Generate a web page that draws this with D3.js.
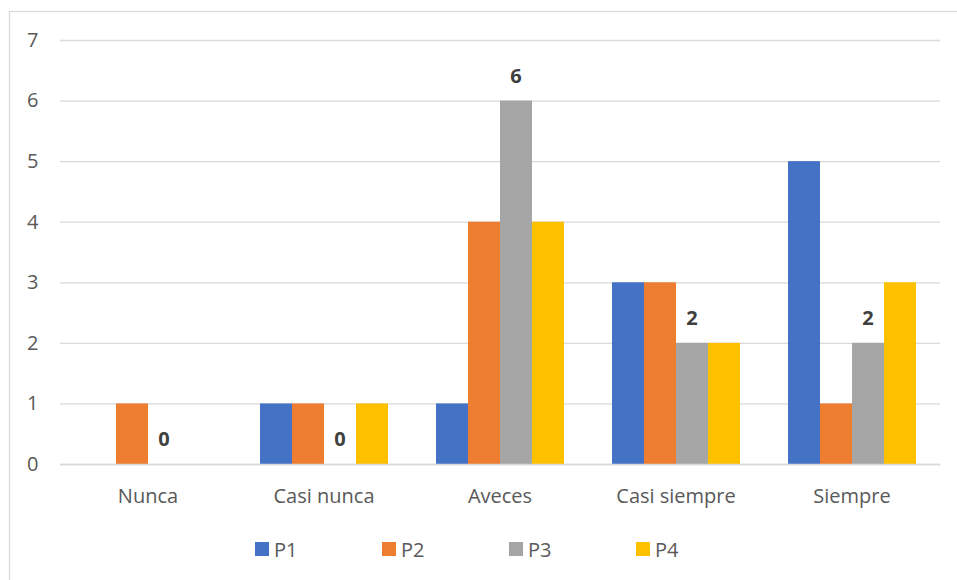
<!DOCTYPE html>
<html><head><meta charset="utf-8">
<script src="https://cdn.jsdelivr.net/npm/d3@7"></script>
<style>body{margin:0;background:#fff}svg{display:block}</style>
</head><body><svg id="c" width="957" height="580"></svg>
<script>
const categories = ["Nunca", "Casi nunca", "Aveces", "Casi siempre", "Siempre"];
const seriesNames = ["P1", "P2", "P3", "P4"];
const P1 = [0, 1, 1, 3, 5];
const P2 = [1, 1, 4, 3, 1];
const P3 = [0, 0, 6, 2, 2];
const P4 = [0, 1, 4, 2, 3];
const yTicks = [0, 1, 2, 3, 4, 5, 6, 7];
const colors = ["#4472C4", "#ED7D31", "#A5A5A5", "#FFC000"];
const labeledSeries = "P3";

const seriesValues = [P1, P2, P3, P4];
const svg = d3.select("#c");
const font = "'Open Sans', 'Noto Sans', sans-serif";

// outer border
svg.append("rect").attr("x", 9.5).attr("y", 11.5).attr("width", 960).attr("height", 600)
  .attr("fill", "none").attr("stroke", "#d9d9d9").attr("stroke-width", 1.3);

const x = d3.scaleBand().domain(categories).range([60, 940]).paddingInner(0.2727).paddingOuter(0.1364);
const xs = d3.scaleBand().domain(seriesNames).range([0, x.bandwidth()]);
const y = d3.scaleLinear().domain([0, 7]).range([464, 40]);

// gridlines
const yAxis = d3.axisLeft(y).tickValues(yTicks).tickSize(-880).tickFormat(d3.format("d"));
const gy = svg.append("g").attr("transform", "translate(60,0)").call(yAxis);
gy.select(".domain").remove();
gy.selectAll(".tick line").attr("stroke", "#d9d9d9").attr("stroke-width", 1.3);
gy.selectAll(".tick text").attr("fill", "#595959").style("font-family", font).style("font-size", "20px").attr("text-anchor", "start").attr("x", -33);

// bars
const groups = svg.append("g").selectAll("g").data(categories).join("g")
  .attr("transform", d => `translate(${x(d)},0)`);
groups.selectAll("rect").data((c, i) => seriesNames.map((s, j) => ({s, v: seriesValues[j][i], j})))
  .join("rect")
  .attr("x", d => xs(d.s)).attr("width", xs.bandwidth())
  .attr("y", d => y(d.v)).attr("height", d => y(0) - y(d.v))
  .attr("fill", d => colors[d.j]);

// data labels for P3
const li = seriesNames.indexOf(labeledSeries);
svg.append("g").selectAll("text").data(categories).join("text")
  .attr("x", c => x(c) + xs(labeledSeries) + xs.bandwidth() / 2)
  .attr("y", (c, i) => y(seriesValues[li][i]) - 18)
  .attr("text-anchor", "middle")
  .attr("fill", "#404040").style("font-family", font).style("font-size", "20px").style("font-weight", "bold")
  .text((c, i) => seriesValues[li][i]);

// x axis baseline and labels
const xAxis = d3.axisBottom(x).tickSize(0).tickPadding(25);
const gx = svg.append("g").attr("transform", "translate(0,464)").call(xAxis);
gx.select(".domain").attr("stroke", "#d9d9d9").attr("stroke-width", 1.3);
gx.selectAll(".tick text").attr("fill", "#595959").style("font-family", font).style("font-size", "20px");

// legend
const legend = svg.append("g").selectAll("g").data(seriesNames).join("g")
  .attr("transform", (d, i) => `translate(${255 + i * 127},542)`);
legend.append("rect").attr("width", 14).attr("height", 14).attr("y", 0).attr("fill", (d, i) => colors[i]);
legend.append("text").attr("x", 19).attr("y", 14.5).attr("fill", "#595959")
  .style("font-family", font).style("font-size", "20px").text(d => d);
</script></body></html>
